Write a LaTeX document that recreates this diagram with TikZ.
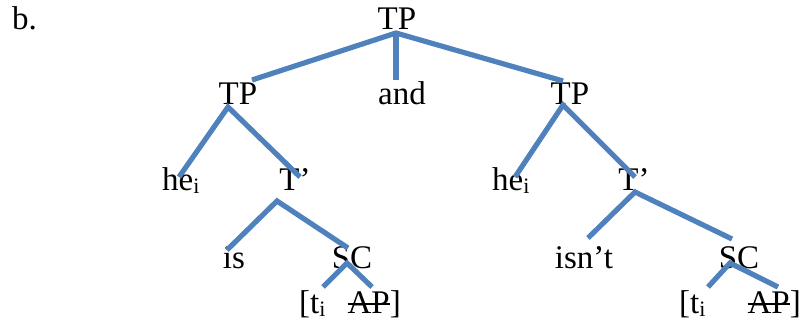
\documentclass[tikz,border=0pt]{standalone}
\usepackage{fontspec}
\setmainfont{Liberation Serif}
\definecolor{branch}{HTML}{4F81BD}
\newcommand\subi{{\fontsize{22}{22}\selectfont\raisebox{-3.5pt}{i}}}
\newcommand\strk[1]{\setbox0\hbox{#1}\rlap{\rule[8.5pt]{\wd0}{1.5pt}}\box0}
\begin{document}
\begin{tikzpicture}[x=1pt,y=-1pt,
  lbl/.style={inner sep=0pt,font=\fontsize{33}{38}\selectfont,anchor=base},
  lblw/.style={lbl,anchor=base west},
  lble/.style={lbl,anchor=base east},
  br/.style={draw=branch,line width=5.2pt}]
\useasboundingbox (0,0) rectangle (804,321);
% labels
\node[lblw] (b) at (12,30) {b.};
\node[lbl] (tp0) at (397,30) {TP};
\node[lbl] (tp1) at (238,104) {TP};
\node[lbl] (and) at (402,104) {and};
\node[lbl] (tp2) at (570,104) {TP};
\node[lblw] (he1) at (162,190) {he\subi};
\node[lbl] (tb1) at (295,190) {T’};
\node[lblw] (he2) at (492,190) {he\subi};
\node[lbl] (tb2) at (634,190) {T’};
\node[lbl] (is) at (234,268) {is};
\node[lbl] (sc1) at (352,268) {SC};
\node[lbl] (isnt) at (584,268) {isn’t};
\node[lbl] (sc2) at (739,268) {SC};
\node[lblw] (t1) at (299,313) {[t\subi};
\node[lble] (ap1) at (401,313) {\strk{AP}]};
\node[lblw] (t2) at (679,313) {[t\subi};
\node[lble] (ap2) at (801,313) {\strk{AP}]};
% attachment points
\coordinate (r) at (396,33);
\coordinate (rL) at (252,80);
\coordinate (rM) at (396,80);
\coordinate (rR) at (563,81);
\coordinate (a1) at (228,107);
\coordinate (a1L) at (179,177);
\coordinate (a1R) at (300,177);
\coordinate (a2) at (277,201);
\coordinate (a2L) at (227,250);
\coordinate (a2R) at (348,248);
\coordinate (a3) at (347,263);
\coordinate (a3L) at (323,287);
\coordinate (a3R) at (372,287);
\coordinate (a4) at (563,105);
\coordinate (a4L) at (515,177);
\coordinate (a4R) at (635,177);
\coordinate (a5) at (635,192);
\coordinate (a5L) at (588,238);
\coordinate (a5R) at (732,239);
\coordinate (a6) at (730,263);
\coordinate (a6L) at (708,287);
\coordinate (a6R) at (778,287);
% branches
\draw[br] (rL) -- (r) -- (rR);
\draw[br] (r) -- (rM);
\draw[br] (a1L) -- (a1) -- (a1R);
\draw[br] (a2L) -- (a2) -- (a2R);
\draw[br] (a3L) -- (a3) -- (a3R);
\draw[br] (a4L) -- (a4) -- (a4R);
\draw[br] (a5L) -- (a5) -- (a5R);
\draw[br] (a6L) -- (a6) -- (a6R);
\end{tikzpicture}
\end{document}
